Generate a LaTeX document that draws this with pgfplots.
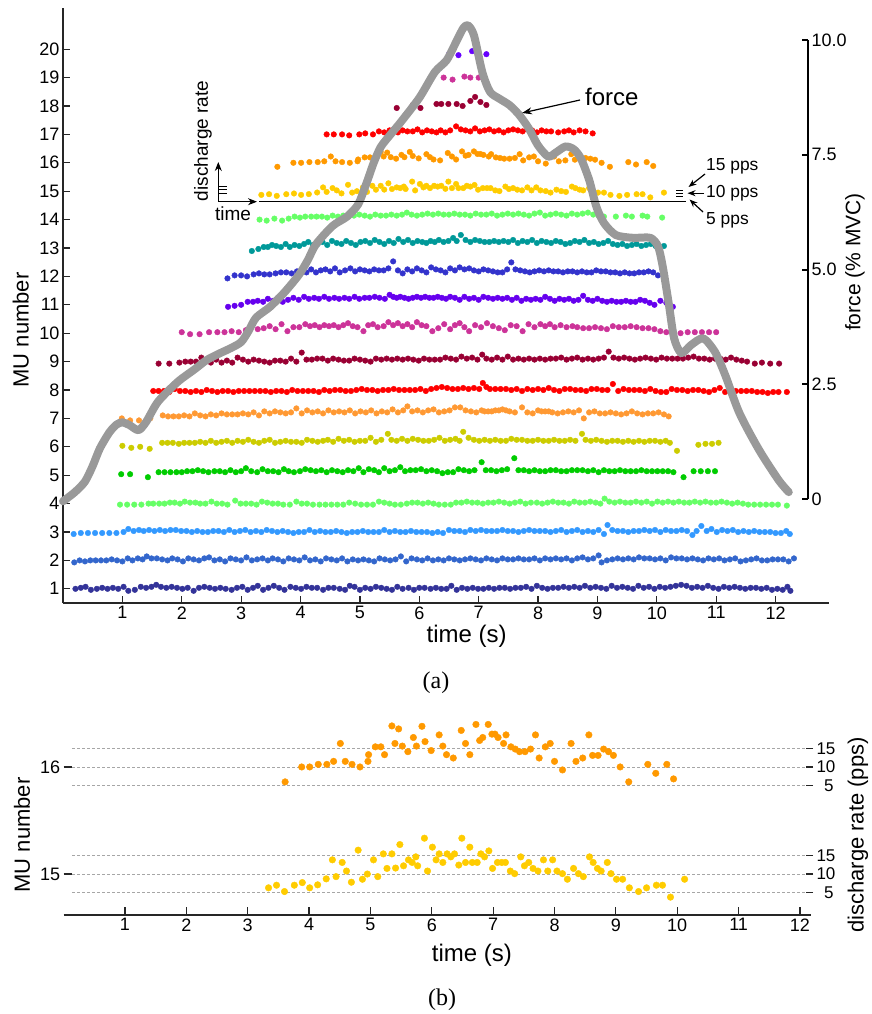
\documentclass[border=0pt]{standalone}
\usepackage{fontspec}
\setmainfont{Liberation Sans}
\newfontfamily\seriffont{Liberation Serif}
\usepackage{pgfplots}
\usepackage{pgfplotstable}
\pgfplotsset{compat=1.18}
\usetikzlibrary{arrows.meta}
\definecolor{c1}{HTML}{333399}\definecolor{c2}{HTML}{3366CC}\definecolor{c3}{HTML}{3399FF}
\definecolor{c4}{HTML}{66FF66}\definecolor{c5}{HTML}{00CC00}\definecolor{c6}{HTML}{CCCC00}
\definecolor{c7}{HTML}{FF9933}\definecolor{c8}{HTML}{FF0000}\definecolor{c9}{HTML}{990033}
\definecolor{c10}{HTML}{CC3399}\definecolor{c11}{HTML}{6600EE}\definecolor{c12}{HTML}{3333CC}
\definecolor{c13}{HTML}{009999}\definecolor{c14}{HTML}{66FF66}\definecolor{c15}{HTML}{FFCC00}
\definecolor{c16}{HTML}{FF9900}\definecolor{c17}{HTML}{FF0000}\definecolor{c18}{HTML}{990033}
\definecolor{c19}{HTML}{CC3399}\definecolor{c20}{HTML}{6600FF}
\definecolor{forcegray}{HTML}{999999}
\pgfplotsset{
  mu/.style={only marks, mark=*, mark size=2.8pt, color=#1},
  mub/.style={only marks, mark=*, mark size=3.3pt, color=#1},
  refl/.style={color=black!35, line width=0.9pt, dash pattern=on 3pt off 2pt},
  /pgf/number format/assume math mode=true,
  tick label style={font=\fontsize{18}{20}\selectfont},
  label style={font=\fontsize{22}{24}\selectfont},
}
\pgfplotstableread[row sep=\\]{t r\\
3.34 6.3\\ 3.47 7.0\\ 3.60 5.3\\ 3.76 7.0\\ 3.89 7.7\\ 4.01 6.3\\ 4.14 7.1\\ 4.28 8.7\\ 4.38 13.8\\ 4.44 9.3\\
4.54 13.1\\ 4.61 10.8\\ 4.69 7.8\\ 4.80 16.4\\ 4.87 8.6\\ 4.95 10.0\\ 5.05 13.8\\ 5.12 9.3\\ 5.21 15.4\\ 5.27 11.5\\
5.35 15.4\\ 5.41 11.6\\ 5.48 17.9\\ 5.54 12.2\\ 5.62 13.8\\ 5.68 13.1\\ 5.74 14.6\\ 5.77 12.2\\ 5.88 19.6\\ 5.93 10.8\\
6.01 17.2\\ 6.07 13.8\\ 6.12 15.4\\ 6.18 13.1\\ 6.25 15.4\\ 6.31 14.6\\ 6.37 15.4\\ 6.44 12.4\\ 6.49 19.6\\ 6.55 13.1\\
6.62 17.2\\ 6.66 13.1\\ 6.74 13.1\\ 6.80 15.4\\ 6.86 14.6\\ 6.93 16.2\\ 6.99 11.5\\ 7.07 13.1\\ 7.14 13.1\\ 7.20 13.1\\
7.28 10.8\\ 7.35 10.1\\ 7.45 14.6\\ 7.51 12.2\\ 7.58 13.1\\ 7.65 11.5\\ 7.73 10.8\\ 7.82 13.8\\ 7.89 10.8\\ 7.97 13.8\\
8.04 10.8\\ 8.13 10.1\\ 8.21 8.6\\ 8.31 11.5\\ 8.39 10.1\\ 8.47 9.3\\ 8.57 14.6\\ 8.63 13.1\\ 8.70 11.5\\ 8.76 10.8\\
8.86 13.1\\ 8.92 10.1\\ 9.01 8.6\\ 9.11 8.6\\ 9.22 6.3\\ 9.37 5.3\\ 9.50 6.3\\ 9.66 7.0\\ 9.76 7.0\\ 9.89 3.8\\ 10.12 8.6\\
}\tabXV
\pgfplotstableread[row sep=\\]{t r\\
3.61 6.0\\ 3.88 10.0\\ 4.01 10.0\\ 4.15 10.7\\ 4.29 10.7\\ 4.40 11.5\\ 4.51 16.3\\ 4.59 11.5\\ 4.70 10.7\\ 4.83 10.0\\
4.96 11.5\\ 4.97 13.3\\ 5.08 15.4\\ 5.17 15.4\\ 5.23 13.3\\ 5.35 21.0\\ 5.40 16.3\\ 5.46 20.2\\ 5.52 15.6\\ 5.61 14.1\\
5.70 17.9\\ 5.75 15.6\\ 5.84 20.9\\ 5.89 16.8\\ 5.99 14.4\\ 6.12 18.6\\ 6.18 15.6\\ 6.24 13.3\\ 6.35 12.4\\ 6.48 19.8\\
6.55 16.3\\ 6.62 13.3\\ 6.72 21.4\\ 6.78 17.1\\ 6.83 17.9\\ 6.92 21.4\\ 6.98 18.8\\ 7.03 18.8\\ 7.08 17.9\\ 7.17 16.3\\
7.21 18.6\\ 7.29 15.4\\ 7.36 14.8\\ 7.43 14.1\\ 7.52 14.1\\ 7.61 14.8\\ 7.69 18.6\\ 7.75 12.4\\ 7.85 15.4\\ 7.93 16.3\\
8.00 11.5\\ 8.13 9.2\\ 8.27 16.3\\ 8.35 11.5\\ 8.46 12.4\\ 8.56 18.6\\ 8.62 13.1\\ 8.71 13.1\\ 8.80 14.8\\ 8.88 14.1\\
8.96 13.1\\ 9.07 10.0\\ 9.21 6.0\\ 9.52 10.7\\ 9.65 8.3\\ 9.83 10.7\\ 9.94 6.8\\
}\tabXVI
\begin{document}
\begin{tikzpicture}[x=1pt,y=1pt]
\path[use as bounding box] (0,0) rectangle (872,-1014);
% ---------------- panel (a): motor units ----------------
\begin{axis}[
  at={(63pt,-603pt)}, anchor=south west, scale only axis,
  width=766pt, height=595pt,
  xmin=0, xmax=12.9, ymin=0.5, ymax=21.45,
  axis x line*=bottom, axis y line*=left,
  axis line style={line width=1.5pt, black!85},
  xtick={1,...,12}, ytick={1,...,20},
  tick align=inside, major tick length=7pt,
  tick style={line width=1.2pt, black!85},
  clip=false,
  xlabel={time (s)}, ylabel={MU number},
  xlabel style={at={(axis description cs:0.527,-0.0555)}, anchor=center, font=\fontsize{24}{26}\selectfont},
  ylabel style={at={(axis description cs:-0.055,0.459)}, anchor=center},
]
\addplot[mu=c1] table[row sep=\\, x=t, y expr={1+(\thisrow{r}-10)/28.4}] {t r\\
0.21 10\\ 0.30 11\\ 0.38 12\\ 0.47 9\\ 0.57 10\\ 0.66 11\\ 0.75 10\\ 0.84 11\\ 0.93 10\\ 1.02 12\\ 1.10 8\\ 1.21 9\\ 1.31 12\\ 1.40 11\\ 1.49 12\\ 1.57 14\\ 1.65 12\\ 1.74 11\\ 1.83 12\\ 1.92 11\\ 2.01 10\\ 2.10 11\\ 2.20 8\\ 2.29 11\\ 2.38 12\\ 2.47 11\\ 2.56 10\\ 2.65 11\\ 2.74 10\\ 2.84 9\\ 2.93 11\\ 3.02 12\\ 3.11 9\\ 3.20 11\\ 3.28 13\\ 3.37 9\\ 3.46 11\\ 3.55 13\\ 3.64 11\\ 3.73 9\\ 3.83 12\\ 3.92 11\\ 4.01 10\\ 4.10 12\\ 4.19 11\\ 4.28 11\\ 4.38 9\\ 4.47 11\\ 4.56 11\\ 4.66 10\\ 4.75 9\\ 4.83 13\\ 4.91 12\\ 5.00 9\\ 5.09 11\\ 5.18 10\\ 5.27 12\\ 5.36 11\\ 5.45 10\\ 5.54 9\\ 5.63 12\\ 5.72 10\\ 5.82 11\\ 5.91 9\\ 6.00 11\\ 6.09 11\\ 6.19 10\\ 6.28 11\\ 6.37 10\\ 6.46 10\\ 6.54 13\\ 6.63 9\\ 6.72 11\\ 6.81 10\\ 6.90 11\\ 6.99 10\\ 7.08 10\\ 7.17 11\\ 7.26 10\\ 7.35 11\\ 7.44 11\\ 7.53 10\\ 7.62 11\\ 7.71 11\\ 7.80 12\\ 7.89 10\\ 7.98 13\\ 8.07 11\\ 8.16 10\\ 8.25 11\\ 8.34 11\\ 8.43 12\\ 8.52 11\\ 8.61 12\\ 8.70 11\\ 8.79 13\\ 8.88 11\\ 8.97 12\\ 9.06 11\\ 9.15 10\\ 9.24 13\\ 9.33 11\\ 9.42 12\\ 9.51 11\\ 9.60 10\\ 9.69 13\\ 9.78 11\\ 9.87 12\\ 9.96 10\\ 10.05 12\\ 10.14 11\\ 10.23 12\\ 10.32 13\\ 10.41 14\\ 10.50 13\\ 10.59 11\\ 10.68 12\\ 10.77 11\\ 10.86 13\\ 10.95 11\\ 11.04 10\\ 11.13 12\\ 11.22 11\\ 11.31 12\\ 11.40 11\\ 11.49 10\\ 11.58 11\\ 11.67 11\\ 11.76 10\\ 11.85 11\\ 11.94 9\\ 12.03 10\\ 12.12 9\\ 12.20 12\\ 12.25 8\\
};
\addplot[mu=c2] table[row sep=\\, x=t, y expr={2+(\thisrow{r}-10)/28.4}] {t r\\
0.19 8\\ 0.28 10\\ 0.37 9\\ 0.46 10\\ 0.55 10\\ 0.64 10\\ 0.73 10\\ 0.82 11\\ 0.91 10\\ 1.00 9\\ 1.09 12\\ 1.17 10\\ 1.26 12\\ 1.34 11\\ 1.41 14\\ 1.49 12\\ 1.58 12\\ 1.67 11\\ 1.76 10\\ 1.84 12\\ 1.93 11\\ 2.02 9\\ 2.11 12\\ 2.20 11\\ 2.29 10\\ 2.38 12\\ 2.46 13\\ 2.55 10\\ 2.64 11\\ 2.73 9\\ 2.82 12\\ 2.91 11\\ 3.00 10\\ 3.09 13\\ 3.18 10\\ 3.27 11\\ 3.36 12\\ 3.45 10\\ 3.53 12\\ 3.62 11\\ 3.71 9\\ 3.80 12\\ 3.89 11\\ 3.98 10\\ 4.07 13\\ 4.16 10\\ 4.25 11\\ 4.34 9\\ 4.43 12\\ 4.52 11\\ 4.61 10\\ 4.70 12\\ 4.79 9\\ 4.88 11\\ 4.97 10\\ 5.06 11\\ 5.15 10\\ 5.24 9\\ 5.33 12\\ 5.42 11\\ 5.51 10\\ 5.60 11\\ 5.69 14\\ 5.78 9\\ 5.87 12\\ 5.96 11\\ 6.05 10\\ 6.14 12\\ 6.23 10\\ 6.32 11\\ 6.41 10\\ 6.50 12\\ 6.59 11\\ 6.68 10\\ 6.77 11\\ 6.86 12\\ 6.95 11\\ 7.04 10\\ 7.13 12\\ 7.22 11\\ 7.31 10\\ 7.40 12\\ 7.49 11\\ 7.58 11\\ 7.67 12\\ 7.76 11\\ 7.85 11\\ 7.94 12\\ 8.03 10\\ 8.12 12\\ 8.21 11\\ 8.30 12\\ 8.39 11\\ 8.48 12\\ 8.57 10\\ 8.66 12\\ 8.75 13\\ 8.84 11\\ 8.93 12\\ 9.02 15\\ 9.07 8\\ 9.16 10\\ 9.25 11\\ 9.34 12\\ 9.43 11\\ 9.52 12\\ 9.61 11\\ 9.70 13\\ 9.79 12\\ 9.88 12\\ 9.97 11\\ 10.06 12\\ 10.15 10\\ 10.24 13\\ 10.33 12\\ 10.42 12\\ 10.51 11\\ 10.60 12\\ 10.69 11\\ 10.78 10\\ 10.87 12\\ 10.96 11\\ 11.05 12\\ 11.14 10\\ 11.23 11\\ 11.32 12\\ 11.41 9\\ 11.50 10\\ 11.59 11\\ 11.68 12\\ 11.77 10\\ 11.86 10\\ 11.95 11\\ 12.04 11\\ 12.13 11\\ 12.22 9\\ 12.31 12\\
};
\addplot[mu=c3] table[row sep=\\, x=t, y expr={3+(\thisrow{r}-10)/28.4}] {t r\\
0.18 8\\ 0.30 9\\ 0.42 9\\ 0.54 9\\ 0.66 9\\ 0.78 9\\ 0.90 9\\ 1.02 10\\ 1.10 13\\ 1.19 11\\ 1.28 12\\ 1.36 11\\ 1.45 12\\ 1.54 11\\ 1.63 12\\ 1.72 11\\ 1.81 12\\ 1.90 12\\ 1.99 11\\ 2.08 11\\ 2.17 10\\ 2.26 11\\ 2.35 10\\ 2.44 10\\ 2.53 11\\ 2.62 11\\ 2.71 10\\ 2.80 12\\ 2.89 10\\ 2.98 11\\ 3.07 12\\ 3.16 10\\ 3.25 11\\ 3.34 10\\ 3.43 12\\ 3.52 11\\ 3.61 10\\ 3.70 11\\ 3.79 10\\ 3.88 9\\ 3.97 10\\ 4.06 10\\ 4.15 12\\ 4.24 10\\ 4.33 11\\ 4.42 10\\ 4.51 10\\ 4.60 11\\ 4.69 10\\ 4.78 9\\ 4.87 10\\ 4.96 10\\ 5.05 11\\ 5.14 10\\ 5.23 10\\ 5.32 10\\ 5.41 12\\ 5.50 10\\ 5.59 11\\ 5.68 10\\ 5.77 10\\ 5.86 11\\ 5.95 10\\ 6.04 10\\ 6.13 10\\ 6.22 9\\ 6.31 10\\ 6.40 9\\ 6.50 12\\ 6.59 11\\ 6.68 11\\ 6.77 10\\ 6.86 12\\ 6.95 11\\ 7.04 12\\ 7.13 11\\ 7.22 11\\ 7.31 11\\ 7.40 12\\ 7.49 11\\ 7.58 11\\ 7.67 10\\ 7.76 11\\ 7.85 12\\ 7.94 11\\ 8.03 11\\ 8.12 11\\ 8.21 10\\ 8.30 11\\ 8.39 12\\ 8.48 10\\ 8.57 11\\ 8.66 12\\ 8.75 10\\ 8.84 11\\ 8.93 10\\ 9.02 12\\ 9.11 8\\ 9.17 17\\ 9.25 12\\ 9.34 11\\ 9.43 11\\ 9.52 10\\ 9.61 11\\ 9.70 11\\ 9.79 12\\ 9.88 11\\ 9.97 12\\ 10.06 10\\ 10.15 12\\ 10.24 11\\ 10.33 11\\ 10.42 12\\ 10.51 11\\ 10.60 7\\ 10.67 11\\ 10.75 16\\ 10.84 11\\ 10.92 13\\ 11.01 10\\ 11.10 12\\ 11.19 11\\ 11.28 12\\ 11.37 10\\ 11.46 11\\ 11.55 10\\ 11.64 11\\ 11.73 10\\ 11.82 10\\ 11.91 10\\ 12.00 9\\ 12.09 9\\ 12.18 11\\ 12.24 8\\
};
\addplot[mu=c4] table[row sep=\\, x=t, y expr={4+(\thisrow{r}-10)/28.4}] {t r\\
0.96 9\\ 1.08 9\\ 1.20 9\\ 1.32 9\\ 1.44 10\\ 1.52 10\\ 1.62 10\\ 1.71 10\\ 1.80 11\\ 1.88 11\\ 1.97 10\\ 2.05 12\\ 2.14 11\\ 2.23 11\\ 2.31 10\\ 2.40 10\\ 2.50 12\\ 2.59 10\\ 2.68 10\\ 2.77 9\\ 2.90 13\\ 2.99 10\\ 3.08 10\\ 3.17 10\\ 3.26 9\\ 3.35 12\\ 3.44 11\\ 3.53 10\\ 3.62 10\\ 3.71 9\\ 3.82 9\\ 3.93 12\\ 4.02 10\\ 4.11 10\\ 4.21 9\\ 4.32 9\\ 4.42 9\\ 4.52 9\\ 4.62 9\\ 4.72 9\\ 4.82 11\\ 4.92 10\\ 5.02 9\\ 5.12 9\\ 5.22 9\\ 5.32 12\\ 5.41 11\\ 5.50 10\\ 5.59 9\\ 5.69 9\\ 5.79 10\\ 5.88 11\\ 5.97 11\\ 6.06 10\\ 6.15 11\\ 6.24 10\\ 6.33 9\\ 6.43 9\\ 6.53 9\\ 6.62 11\\ 6.71 11\\ 6.80 12\\ 6.89 11\\ 6.98 11\\ 7.07 10\\ 7.16 11\\ 7.25 11\\ 7.34 12\\ 7.43 11\\ 7.52 10\\ 7.61 11\\ 7.70 12\\ 7.79 10\\ 7.88 11\\ 7.98 11\\ 8.07 10\\ 8.16 11\\ 8.25 12\\ 8.34 11\\ 8.43 11\\ 8.52 10\\ 8.61 12\\ 8.70 11\\ 8.79 11\\ 8.88 12\\ 8.97 11\\ 9.05 10\\ 9.12 15\\ 9.20 12\\ 9.29 11\\ 9.38 12\\ 9.47 11\\ 9.56 11\\ 9.65 12\\ 9.74 11\\ 9.83 12\\ 9.92 10\\ 10.01 12\\ 10.10 11\\ 10.19 12\\ 10.28 11\\ 10.37 12\\ 10.46 11\\ 10.55 11\\ 10.64 12\\ 10.73 11\\ 10.82 12\\ 10.91 11\\ 11.00 11\\ 11.09 12\\ 11.18 11\\ 11.27 10\\ 11.36 11\\ 11.45 10\\ 11.54 9\\ 11.64 9\\ 11.74 9\\ 11.84 9\\ 11.94 9\\ 12.04 9\\ 12.19 8\\
};
\addplot[mu=c5] table[row sep=\\, x=t, y expr={5+(\thisrow{r}-10)/28.4}] {t r\\
0.98 11\\ 1.13 11\\ 1.43 8\\ 1.61 13\\ 1.71 13\\ 1.81 13\\ 1.91 13\\ 2.00 13\\ 2.09 14\\ 2.18 14\\ 2.27 15\\ 2.36 14\\ 2.45 13\\ 2.55 14\\ 2.64 14\\ 2.73 13\\ 2.82 15\\ 2.91 13\\ 3.00 14\\ 3.08 17\\ 3.17 14\\ 3.27 13\\ 3.36 16\\ 3.45 14\\ 3.54 14\\ 3.63 13\\ 3.72 16\\ 3.80 14\\ 3.89 13\\ 3.99 14\\ 4.08 16\\ 4.17 15\\ 4.26 14\\ 4.35 15\\ 4.44 13\\ 4.53 15\\ 4.62 14\\ 4.71 13\\ 4.80 15\\ 4.89 14\\ 4.98 17\\ 5.06 13\\ 5.15 16\\ 5.24 15\\ 5.32 13\\ 5.41 17\\ 5.50 14\\ 5.59 15\\ 5.68 18\\ 5.76 14\\ 5.85 15\\ 5.94 15\\ 6.03 16\\ 6.12 14\\ 6.21 15\\ 6.30 14\\ 6.39 12\\ 6.48 13\\ 6.57 13\\ 6.66 16\\ 6.75 15\\ 6.84 14\\ 6.93 15\\ 7.05 23\\ 7.12 15\\ 7.21 15\\ 7.30 14\\ 7.39 15\\ 7.48 16\\ 7.60 27\\ 7.67 15\\ 7.76 15\\ 7.85 14\\ 7.94 15\\ 8.03 14\\ 8.12 14\\ 8.21 15\\ 8.30 15\\ 8.39 14\\ 8.48 14\\ 8.57 15\\ 8.66 15\\ 8.75 15\\ 8.84 14\\ 8.93 15\\ 9.02 13\\ 9.11 15\\ 9.20 14\\ 9.29 14\\ 9.38 15\\ 9.47 14\\ 9.56 14\\ 9.65 14\\ 9.74 15\\ 9.83 14\\ 9.92 14\\ 10.01 14\\ 10.10 14\\ 10.19 14\\ 10.28 13\\ 10.45 8\\ 10.62 14\\ 10.74 14\\ 10.86 14\\ 10.98 14\\
};
\addplot[mu=c6] table[row sep=\\, x=t, y expr={6+(\thisrow{r}-10)/28.4}] {t r\\
1.00 11\\ 1.15 9\\ 1.30 10\\ 1.46 8\\ 1.67 14\\ 1.76 14\\ 1.85 14\\ 1.95 13\\ 2.04 14\\ 2.13 14\\ 2.22 14\\ 2.31 15\\ 2.40 14\\ 2.49 16\\ 2.58 14\\ 2.67 15\\ 2.76 16\\ 2.85 14\\ 2.94 16\\ 3.03 15\\ 3.12 17\\ 3.21 15\\ 3.30 14\\ 3.39 16\\ 3.48 17\\ 3.57 14\\ 3.66 15\\ 3.75 16\\ 3.84 15\\ 3.93 15\\ 4.02 14\\ 4.11 17\\ 4.20 16\\ 4.29 15\\ 4.38 16\\ 4.46 17\\ 4.55 15\\ 4.64 18\\ 4.73 16\\ 4.82 17\\ 4.91 15\\ 5.00 16\\ 5.09 16\\ 5.18 19\\ 5.27 15\\ 5.36 17\\ 5.47 23\\ 5.53 17\\ 5.62 16\\ 5.71 18\\ 5.80 16\\ 5.89 18\\ 5.98 17\\ 6.07 16\\ 6.16 16\\ 6.25 17\\ 6.34 19\\ 6.43 16\\ 6.52 17\\ 6.61 18\\ 6.68 16\\ 6.74 25\\ 6.83 19\\ 6.92 17\\ 7.01 16\\ 7.10 17\\ 7.19 16\\ 7.28 17\\ 7.37 16\\ 7.46 16\\ 7.55 18\\ 7.64 17\\ 7.73 17\\ 7.82 16\\ 7.91 16\\ 8.00 17\\ 8.09 16\\ 8.18 16\\ 8.27 17\\ 8.36 16\\ 8.45 16\\ 8.54 17\\ 8.63 16\\ 8.74 23\\ 8.80 17\\ 8.89 16\\ 8.98 17\\ 9.07 16\\ 9.16 15\\ 9.25 16\\ 9.34 16\\ 9.43 15\\ 9.52 16\\ 9.61 15\\ 9.70 16\\ 9.79 15\\ 9.88 16\\ 9.97 16\\ 10.06 15\\ 10.15 16\\ 10.22 14\\ 10.34 6\\ 10.70 12\\ 10.82 13\\ 10.93 13\\ 11.04 14\\
};
\addplot[mu=c7] table[row sep=\\, x=t, y expr={7+(\thisrow{r}-10)/28.4}] {t r\\
0.99 10\\ 1.13 8\\ 1.28 8\\ 1.47 10\\ 1.68 13\\ 1.77 12\\ 1.86 12\\ 1.95 12\\ 2.04 13\\ 2.13 12\\ 2.22 15\\ 2.31 13\\ 2.40 12\\ 2.49 14\\ 2.58 13\\ 2.67 15\\ 2.76 14\\ 2.85 14\\ 2.94 14\\ 3.03 15\\ 3.12 14\\ 3.21 16\\ 3.30 13\\ 3.39 17\\ 3.48 15\\ 3.57 17\\ 3.66 16\\ 3.75 15\\ 3.84 16\\ 3.93 20\\ 4.02 15\\ 4.11 18\\ 4.20 16\\ 4.29 17\\ 4.38 15\\ 4.47 18\\ 4.56 16\\ 4.65 17\\ 4.74 16\\ 4.83 18\\ 4.92 15\\ 5.01 17\\ 5.10 16\\ 5.19 18\\ 5.28 15\\ 5.37 17\\ 5.46 16\\ 5.55 19\\ 5.64 16\\ 5.73 18\\ 5.80 22\\ 5.88 17\\ 5.97 18\\ 6.06 16\\ 6.15 18\\ 6.24 19\\ 6.33 16\\ 6.42 17\\ 6.51 18\\ 6.60 21\\ 6.69 21\\ 6.78 18\\ 6.87 17\\ 6.96 16\\ 7.05 18\\ 7.10 17\\ 7.16 17\\ 7.22 17\\ 7.28 18\\ 7.34 18\\ 7.40 19\\ 7.46 18\\ 7.52 17\\ 7.61 16\\ 7.73 21\\ 7.82 16\\ 7.91 15\\ 8.00 18\\ 8.06 17\\ 8.12 17\\ 8.18 17\\ 8.24 16\\ 8.33 15\\ 8.42 16\\ 8.51 17\\ 8.60 16\\ 8.69 18\\ 8.77 10\\ 8.86 16\\ 8.95 17\\ 9.04 15\\ 9.13 15\\ 9.22 16\\ 9.31 15\\ 9.40 14\\ 9.49 15\\ 9.58 17\\ 9.67 15\\ 9.76 14\\ 9.85 15\\ 9.94 15\\ 10.03 16\\ 10.12 14\\ 10.20 12\\
};
\addplot[mu=c8] table[row sep=\\, x=t, y expr={8+(\thisrow{r}-10)/28.4}] {t r\\
1.52 9\\ 1.61 9\\ 1.70 9\\ 1.79 8\\ 1.88 11\\ 1.97 9\\ 2.06 9\\ 2.15 8\\ 2.24 9\\ 2.33 8\\ 2.42 10\\ 2.51 9\\ 2.60 8\\ 2.69 9\\ 2.78 9\\ 2.87 8\\ 2.96 9\\ 3.05 9\\ 3.14 9\\ 3.23 9\\ 3.32 9\\ 3.41 9\\ 3.50 8\\ 3.59 9\\ 3.68 9\\ 3.77 8\\ 3.86 10\\ 3.95 9\\ 4.04 9\\ 4.13 9\\ 4.22 9\\ 4.31 8\\ 4.40 10\\ 4.49 9\\ 4.58 10\\ 4.67 10\\ 4.76 9\\ 4.85 9\\ 4.94 10\\ 5.03 11\\ 5.12 10\\ 5.21 10\\ 5.30 9\\ 5.39 10\\ 5.48 10\\ 5.57 11\\ 5.66 10\\ 5.75 10\\ 5.84 10\\ 5.93 10\\ 6.02 11\\ 6.11 9\\ 6.20 11\\ 6.29 12\\ 6.38 13\\ 6.47 12\\ 6.56 11\\ 6.65 11\\ 6.74 12\\ 6.83 11\\ 6.92 12\\ 7.01 11\\ 7.07 17\\ 7.13 13\\ 7.19 11\\ 7.28 11\\ 7.37 11\\ 7.46 11\\ 7.55 10\\ 7.64 11\\ 7.73 9\\ 7.82 11\\ 7.91 10\\ 8.00 11\\ 8.09 10\\ 8.18 12\\ 8.27 10\\ 8.36 9\\ 8.45 11\\ 8.54 11\\ 8.63 10\\ 8.72 10\\ 8.81 9\\ 8.90 11\\ 8.99 11\\ 9.08 10\\ 9.17 10\\ 9.26 16\\ 9.35 9\\ 9.44 11\\ 9.53 10\\ 9.62 10\\ 9.71 10\\ 9.80 9\\ 9.89 11\\ 9.98 9\\ 10.07 8\\ 10.16 8\\ 10.25 11\\ 10.34 10\\ 10.43 10\\ 10.52 9\\ 10.61 10\\ 10.70 10\\ 10.79 9\\ 10.88 8\\ 10.97 10\\ 11.06 12\\ 11.15 8\\ 11.24 9\\ 11.33 9\\ 11.42 9\\ 11.51 9\\ 11.60 9\\ 11.69 8\\ 11.78 8\\ 11.87 7\\ 11.96 8\\ 12.05 8\\ 12.19 8\\
};
\addplot[mu=c9] table[row sep=\\, x=t, y expr={9+(\thisrow{r}-10)/28.4}] {t r\\
1.61 8\\ 1.79 8\\ 1.96 9\\ 2.06 10\\ 2.15 10\\ 2.24 10\\ 2.33 14\\ 2.40 11\\ 2.49 9\\ 2.58 12\\ 2.67 9\\ 2.76 11\\ 2.85 9\\ 2.94 14\\ 3.03 12\\ 3.12 10\\ 3.21 12\\ 3.30 11\\ 3.39 10\\ 3.48 9\\ 3.57 11\\ 3.66 11\\ 3.75 10\\ 3.84 13\\ 3.93 10\\ 4.02 19\\ 4.10 12\\ 4.19 12\\ 4.28 13\\ 4.37 13\\ 4.46 11\\ 4.55 13\\ 4.64 12\\ 4.73 11\\ 4.82 11\\ 4.91 13\\ 5.00 12\\ 5.09 11\\ 5.18 10\\ 5.27 13\\ 5.36 12\\ 5.45 13\\ 5.54 12\\ 5.63 13\\ 5.72 12\\ 5.81 13\\ 5.90 12\\ 5.99 11\\ 6.08 13\\ 6.17 12\\ 6.26 12\\ 6.35 12\\ 6.44 14\\ 6.53 13\\ 6.62 12\\ 6.71 15\\ 6.80 13\\ 6.89 14\\ 6.98 12\\ 7.06 17\\ 7.13 13\\ 7.22 12\\ 7.31 14\\ 7.40 12\\ 7.49 15\\ 7.58 12\\ 7.67 13\\ 7.76 12\\ 7.85 13\\ 7.94 12\\ 8.03 13\\ 8.12 12\\ 8.21 13\\ 8.30 13\\ 8.39 14\\ 8.48 12\\ 8.57 13\\ 8.66 14\\ 8.75 12\\ 8.84 13\\ 8.93 12\\ 9.02 13\\ 9.11 14\\ 9.19 20\\ 9.27 14\\ 9.36 13\\ 9.45 14\\ 9.54 13\\ 9.63 12\\ 9.72 13\\ 9.81 14\\ 9.90 13\\ 9.99 12\\ 10.08 14\\ 10.17 13\\ 10.26 13\\ 10.35 13\\ 10.44 13\\ 10.53 14\\ 10.62 15\\ 10.71 13\\ 10.80 13\\ 10.89 12\\ 10.98 13\\ 11.07 13\\ 11.16 12\\ 11.25 14\\ 11.34 12\\ 11.43 11\\ 11.52 10\\ 11.65 8\\ 11.77 9\\ 11.91 8\\ 12.06 8\\
};
\addplot[mu=c10] table[row sep=\\, x=t, y expr={10+(\thisrow{r}-10)/28.4}] {t r\\
2.00 11\\ 2.14 9\\ 2.30 9\\ 2.46 11\\ 2.60 11\\ 2.72 11\\ 2.84 12\\ 2.96 11\\ 3.08 13\\ 3.18 20\\ 3.28 14\\ 3.38 15\\ 3.48 17\\ 3.58 14\\ 3.68 19\\ 3.78 12\\ 3.88 16\\ 3.98 16\\ 4.08 19\\ 4.16 17\\ 4.24 18\\ 4.32 16\\ 4.40 18\\ 4.48 17\\ 4.56 18\\ 4.64 16\\ 4.72 18\\ 4.80 20\\ 4.88 17\\ 4.96 16\\ 5.06 12\\ 5.14 18\\ 5.22 19\\ 5.30 16\\ 5.40 17\\ 5.48 21\\ 5.56 18\\ 5.64 20\\ 5.72 17\\ 5.80 19\\ 5.88 16\\ 5.96 21\\ 6.04 18\\ 6.12 17\\ 6.22 12\\ 6.32 15\\ 6.42 19\\ 6.52 14\\ 6.60 18\\ 6.68 20\\ 6.76 16\\ 6.84 12\\ 6.94 18\\ 7.04 16\\ 7.14 20\\ 7.24 17\\ 7.34 15\\ 7.44 13\\ 7.54 18\\ 7.64 17\\ 7.74 12\\ 7.84 19\\ 7.94 16\\ 8.04 19\\ 8.12 17\\ 8.20 19\\ 8.28 16\\ 8.38 18\\ 8.48 16\\ 8.58 17\\ 8.66 16\\ 8.76 15\\ 8.86 15\\ 8.96 16\\ 9.06 15\\ 9.16 14\\ 9.26 17\\ 9.36 16\\ 9.46 16\\ 9.56 17\\ 9.66 16\\ 9.76 15\\ 9.86 15\\ 9.96 14\\ 10.06 12\\ 10.16 11\\ 10.28 11\\ 10.40 10\\ 10.52 11\\ 10.64 11\\ 10.76 11\\ 10.88 11\\ 11.00 11\\
};
\addplot[mu=c11] table[row sep=\\, x=t, y expr={11+(\thisrow{r}-10)/28.4}] {t r\\
2.78 8\\ 2.89 9\\ 3.00 10\\ 3.11 13\\ 3.20 13\\ 3.28 14\\ 3.37 13\\ 3.45 16\\ 3.54 14\\ 3.62 17\\ 3.70 13\\ 3.79 15\\ 3.88 17\\ 3.97 15\\ 4.06 18\\ 4.14 16\\ 4.23 17\\ 4.31 16\\ 4.40 18\\ 4.48 16\\ 4.57 17\\ 4.65 16\\ 4.74 17\\ 4.82 16\\ 4.91 18\\ 4.99 16\\ 5.08 17\\ 5.16 17\\ 5.25 18\\ 5.33 17\\ 5.42 16\\ 5.50 20\\ 5.56 18\\ 5.62 17\\ 5.68 18\\ 5.75 17\\ 5.82 16\\ 5.89 17\\ 5.96 18\\ 6.03 17\\ 6.10 18\\ 6.17 17\\ 6.24 17\\ 6.31 18\\ 6.38 17\\ 6.45 16\\ 6.52 18\\ 6.60 17\\ 6.68 15\\ 6.76 18\\ 6.84 16\\ 6.92 17\\ 7.00 15\\ 7.08 18\\ 7.16 17\\ 7.24 16\\ 7.32 17\\ 7.40 16\\ 7.48 17\\ 7.56 15\\ 7.64 17\\ 7.72 14\\ 7.80 16\\ 7.88 15\\ 7.96 16\\ 8.04 15\\ 8.12 18\\ 8.20 16\\ 8.28 14\\ 8.36 16\\ 8.44 15\\ 8.52 16\\ 8.60 14\\ 8.68 15\\ 8.76 19\\ 8.84 15\\ 8.92 14\\ 9.00 16\\ 9.08 14\\ 9.16 13\\ 9.24 14\\ 9.32 13\\ 9.40 13\\ 9.48 14\\ 9.56 13\\ 9.64 13\\ 9.72 15\\ 9.80 14\\ 9.88 12\\ 9.96 10\\ 10.06 14\\ 10.16 12\\ 10.27 8\\
};
\addplot[mu=c12] table[row sep=\\, x=t, y expr={12+(\thisrow{r}-10)/28.4}] {t r\\
2.77 8\\ 2.89 11\\ 3.00 11\\ 3.10 10\\ 3.21 12\\ 3.30 13\\ 3.39 12\\ 3.48 12\\ 3.58 13\\ 3.67 14\\ 3.76 14\\ 3.85 13\\ 3.94 15\\ 4.02 16\\ 4.10 14\\ 4.18 17\\ 4.26 14\\ 4.34 16\\ 4.42 17\\ 4.50 15\\ 4.58 18\\ 4.66 14\\ 4.75 16\\ 4.84 18\\ 4.92 15\\ 5.00 17\\ 5.08 16\\ 5.16 15\\ 5.24 17\\ 5.32 16\\ 5.40 16\\ 5.48 18\\ 5.56 25\\ 5.64 16\\ 5.72 13\\ 5.80 17\\ 5.88 15\\ 5.96 18\\ 6.04 16\\ 6.12 14\\ 6.20 19\\ 6.28 17\\ 6.36 16\\ 6.44 14\\ 6.52 18\\ 6.60 16\\ 6.68 19\\ 6.76 17\\ 6.84 18\\ 6.92 16\\ 7.00 15\\ 7.08 17\\ 7.16 16\\ 7.24 15\\ 7.32 14\\ 7.40 14\\ 7.48 17\\ 7.55 24\\ 7.62 17\\ 7.70 16\\ 7.78 15\\ 7.86 14\\ 7.94 15\\ 8.02 16\\ 8.10 15\\ 8.18 16\\ 8.26 15\\ 8.34 15\\ 8.42 14\\ 8.50 15\\ 8.58 15\\ 8.66 14\\ 8.74 15\\ 8.82 14\\ 8.90 14\\ 8.98 16\\ 9.06 15\\ 9.14 15\\ 9.22 14\\ 9.30 14\\ 9.38 13\\ 9.46 14\\ 9.54 13\\ 9.62 13\\ 9.70 14\\ 9.78 14\\ 9.86 15\\ 9.94 14\\ 10.02 11\\ 10.14 11\\
};
\addplot[mu=c13] table[row sep=\\, x=t, y expr={13+(\thisrow{r}-10)/28.4}] {t r\\
3.18 7\\ 3.29 9\\ 3.38 11\\ 3.45 11\\ 3.52 13\\ 3.59 12\\ 3.67 11\\ 3.75 14\\ 3.82 11\\ 3.90 13\\ 3.98 12\\ 4.06 14\\ 4.13 16\\ 4.21 13\\ 4.29 14\\ 4.37 16\\ 4.45 13\\ 4.53 17\\ 4.61 15\\ 4.69 14\\ 4.77 17\\ 4.85 15\\ 4.93 13\\ 5.01 16\\ 5.09 17\\ 5.17 15\\ 5.25 18\\ 5.33 16\\ 5.41 14\\ 5.49 17\\ 5.57 15\\ 5.65 19\\ 5.73 16\\ 5.81 18\\ 5.89 15\\ 5.97 17\\ 6.05 16\\ 6.12 15\\ 6.19 17\\ 6.26 16\\ 6.33 18\\ 6.41 16\\ 6.49 17\\ 6.57 20\\ 6.63 17\\ 6.70 23\\ 6.78 18\\ 6.86 16\\ 6.94 18\\ 7.02 17\\ 7.10 16\\ 7.18 16\\ 7.26 17\\ 7.34 16\\ 7.42 17\\ 7.50 16\\ 7.58 18\\ 7.66 15\\ 7.74 17\\ 7.82 16\\ 7.90 18\\ 7.98 15\\ 8.06 17\\ 8.14 16\\ 8.22 15\\ 8.30 17\\ 8.38 16\\ 8.46 14\\ 8.54 15\\ 8.62 17\\ 8.70 16\\ 8.78 18\\ 8.86 15\\ 8.94 16\\ 9.02 14\\ 9.10 15\\ 9.18 17\\ 9.26 14\\ 9.34 13\\ 9.42 14\\ 9.50 12\\ 9.58 13\\ 9.66 14\\ 9.74 12\\ 9.82 13\\ 9.90 14\\ 9.98 12\\ 10.05 11\\ 10.12 12\\
};
\addplot[mu=c14] table[row sep=\\, x=t, y expr={14+(\thisrow{r}-10)/28.4}] {t r\\
3.31 10\\ 3.43 9\\ 3.56 11\\ 3.69 9\\ 3.80 11\\ 3.90 13\\ 3.99 12\\ 4.08 13\\ 4.18 13\\ 4.27 13\\ 4.36 13\\ 4.45 12\\ 4.54 14\\ 4.63 13\\ 4.72 14\\ 4.81 13\\ 4.90 14\\ 4.99 15\\ 5.08 14\\ 5.17 13\\ 5.26 15\\ 5.35 14\\ 5.44 14\\ 5.53 15\\ 5.62 14\\ 5.71 15\\ 5.79 17\\ 5.87 15\\ 5.96 14\\ 6.05 15\\ 6.14 16\\ 6.23 15\\ 6.32 16\\ 6.41 15\\ 6.50 15\\ 6.59 16\\ 6.68 15\\ 6.77 15\\ 6.86 14\\ 6.95 16\\ 7.04 15\\ 7.13 15\\ 7.22 16\\ 7.31 14\\ 7.40 15\\ 7.49 16\\ 7.58 15\\ 7.67 16\\ 7.76 15\\ 7.85 14\\ 7.94 16\\ 8.03 17\\ 8.12 14\\ 8.21 15\\ 8.30 16\\ 8.39 15\\ 8.48 14\\ 8.57 16\\ 8.66 15\\ 8.75 16\\ 8.84 17\\ 8.93 15\\ 9.02 14\\ 9.11 13\\ 9.31 13\\ 9.48 14\\ 9.58 13\\ 9.76 14\\ 9.84 13\\ 10.09 12\\
};
\addplot[mu=c15] table[x=t, y expr={15+(\thisrow{r}-10)/28.4}] {\tabXV};
\addplot[mu=c16] table[x=t, y expr={16+(\thisrow{r}-10)/28.4}] {\tabXVI};
\addplot[mu=c17] table[row sep=\\, x=t, y expr={17+(\thisrow{r}-10)/28.4}] {t r\\
4.44 10\\ 4.56 10\\ 4.70 10\\ 4.82 9\\ 4.99 10\\ 5.09 11\\ 5.22 10\\ 5.32 13\\ 5.41 12\\ 5.50 14\\ 5.57 15\\ 5.64 12\\ 5.72 14\\ 5.80 13\\ 5.89 13\\ 5.97 15\\ 6.05 12\\ 6.13 14\\ 6.21 13\\ 6.29 12\\ 6.36 14\\ 6.44 12\\ 6.52 14\\ 6.62 18\\ 6.70 15\\ 6.78 14\\ 6.86 13\\ 6.94 16\\ 7.02 13\\ 7.10 14\\ 7.18 15\\ 7.26 13\\ 7.34 14\\ 7.42 12\\ 7.50 14\\ 7.58 15\\ 7.66 14\\ 7.74 13\\ 7.82 15\\ 7.90 14\\ 7.98 12\\ 8.06 14\\ 8.14 13\\ 8.22 13\\ 8.34 12\\ 8.44 13\\ 8.52 14\\ 8.60 12\\ 8.70 14\\ 8.80 13\\ 8.92 11\\
};
\addplot[mu=c18] table[row sep=\\, x=t, y expr={18+(\thisrow{r}-10)/28.4}] {t r\\
5.62 8\\ 5.89 11\\ 6.02 8\\ 6.29 12\\ 6.37 12\\ 6.49 12\\ 6.63 12\\ 6.73 10\\ 6.86 15\\ 6.94 19\\ 7.03 14\\ 7.13 11\\
};
\addplot[mu=c19] table[row sep=\\, x=t, y expr={19+(\thisrow{r}-10)/28.4}] {t r\\
6.41 10\\ 6.56 8\\ 6.76 11\\ 6.86 10\\ 7.00 10\\
};
\addplot[mu=c20] table[row sep=\\, x=t, y expr={20+(\thisrow{r}-10)/28.4}] {t r\\
6.50 5\\ 6.66 4\\ 6.89 8\\ 7.00 4\\ 7.13 5\\
};
\end{axis}
% ---------------- panel (a): force ----------------
\begin{axis}[
  at={(63pt,-499pt)}, anchor=south west, scale only axis,
  width=745pt, height=459pt,
  xmin=0, xmax=12.544, ymin=0, ymax=10,
  axis x line=none, axis y line*=right,
  axis line style={line width=2.4pt, black},
  ytick={0,2.5,5,7.5,10}, yticklabels={0,2.5,5.0,7.5,10.0},
  tick align=inside, major tick length=6pt,
  tick style={line width=2pt, black},
  clip=false,
  ylabel={force (\% MVC)},
  ylabel style={at={(axis description cs:1.063,0.516)}, anchor=center, font=\fontsize{21}{23}\selectfont},
]
\addplot[forcegray, line width=8pt, line cap=round, line join=round, smooth, tension=0.45] coordinates {
(0,-0.05) (0.2,0.15) (0.37,0.38) (0.5,0.72) (0.62,1.1) (0.78,1.45) (0.9,1.62) (1.0,1.67) (1.12,1.61) (1.27,1.5) (1.4,1.68) (1.6,2.12) (1.93,2.55) (2.21,2.82) (2.41,3.02) (2.6,3.15) (2.83,3.29) (3.0,3.42) (3.12,3.65) (3.25,3.95) (3.48,4.18) (3.72,4.49) (3.97,4.88) (4.12,5.2) (4.26,5.55) (4.54,5.95) (4.78,6.15) (4.97,6.42) (5.11,6.88) (5.23,7.32) (5.35,7.67) (5.52,7.95) (5.68,8.2) (6.0,8.74) (6.26,9.3) (6.46,9.56) (6.62,9.96) (6.74,10.26) (6.82,10.32) (6.92,10.1) (7.06,9.3) (7.19,8.87) (7.35,8.72) (7.52,8.58) (7.68,8.37) (7.84,8.08) (8.0,7.7) (8.17,7.46) (8.3,7.55) (8.46,7.68) (8.6,7.62) (8.72,7.42) (8.86,6.95) (8.98,6.37) (9.11,6.01) (9.31,5.75) (9.6,5.69) (9.89,5.69) (10.02,5.5) (10.1,5.05) (10.2,4.25) (10.29,3.5) (10.41,3.18) (10.58,3.36) (10.78,3.5) (10.98,3.2) (11.15,2.7) (11.39,1.87) (11.72,1.07) (12.05,0.41) (12.22,0.15)
};
\end{axis}
% annotations panel (a)
\draw[line width=1.2pt, -{Stealth[length=9pt,width=7pt]}] (218.3,-201.7) -- (218.3,-162);
\draw[line width=1.2pt, -{Stealth[length=9pt,width=7pt]}] (218.3,-201.7) -- (257,-201.7);
\draw[line width=1pt] (218.3,-186)--(226.5,-186) (218.3,-189.6)--(226.5,-189.6) (218.3,-193.3)--(226.5,-193.3);
\node[font=\fontsize{19}{20}\selectfont] at (233,-214) {time};
\node[font=\fontsize{19}{20}\selectfont, rotate=90] at (203,-141) {discharge rate};
\draw[line width=1.2pt] (259,-201.7) -- (686,-201.7);
\draw[line width=1pt] (676,-190.7)--(683,-190.7) (676,-193.7)--(683,-193.7) (676,-196.7)--(683,-196.7);
\draw[line width=1.2pt, -{Stealth[length=8pt,width=6pt]}] (705,-174) -- (688.5,-187);
\draw[line width=1.2pt, -{Stealth[length=8pt,width=6pt]}] (704,-193.2) -- (687.5,-193.2);
\draw[line width=1.2pt, -{Stealth[length=8pt,width=6pt]}] (703,-212) -- (689.5,-199.5);
\node[anchor=west, inner sep=0pt, font=\fontsize{17.4}{18}\selectfont] at (706,-166.7) {15 pps};
\node[anchor=west, inner sep=0pt, font=\fontsize{17.4}{18}\selectfont] at (706,-193.3) {10 pps};
\node[anchor=west, inner sep=0pt, font=\fontsize{17.4}{18}\selectfont] at (706,-220.7) {5 pps};
\node[anchor=west, inner sep=0pt, font=\fontsize{24}{26}\selectfont] at (585,-97) {force};
\draw[line width=1.2pt, -{Stealth[length=10pt,width=7pt]}] (580,-100) -- (522,-113);
\node[font=\seriffont\fontsize{24}{26}\selectfont] at (436,-683) {(a)};
% ---------------- panel (b) ----------------
\begin{axis}[
  at={(63.6pt,-915pt)}, anchor=south west, scale only axis,
  width=747.4pt, height=200pt,
  xmin=0, xmax=12.18, ymin=-0.99, ymax=52.63,
  axis x line*=bottom, axis y line*=left,
  x axis line style={line width=1.5pt, black!85},
  y axis line style={draw=none},
  xtick={1,...,12}, ytick={10,38.7}, yticklabels={15,16},
  tick align=inside, major tick length=8pt,
  tick style={line width=1.2pt, black!85},
  clip=false,
  xlabel={time (s)}, ylabel={MU number},
  xlabel style={at={(axis description cs:0.5464,-0.2)}, anchor=center, font=\fontsize{24}{26}\selectfont},
  ylabel style={at={(axis description cs:-0.0557,0.4)}, anchor=center},
]
\addplot[refl] coordinates {(0.14,5) (12.1,5)};
\addplot[refl] coordinates {(0.14,10) (12.1,10)};
\addplot[refl] coordinates {(0.14,15) (12.1,15)};
\addplot[refl] coordinates {(0.14,33.7) (12.1,33.7)};
\addplot[refl] coordinates {(0.14,38.7) (12.1,38.7)};
\addplot[refl] coordinates {(0.14,43.7) (12.1,43.7)};
\addplot[mub=c15] table[x=t, y expr={\thisrow{r}}] {\tabXV};
\addplot[mub=c16] table[x=t, y expr={\thisrow{r}+28.7}] {\tabXVI};
\end{axis}
\begin{axis}[
  at={(63.6pt,-915pt)}, anchor=south west, scale only axis,
  width=742.4pt, height=200pt,
  xmin=0, xmax=12.1, ymin=-0.99, ymax=52.63,
  axis x line=none, axis y line*=right,
  y axis line style={draw=none},
  ytick={5,10,15,33.7,38.7,43.7}, yticklabels={5,10,15,5,10,15},
  tick align=outside, major tick length=7pt,
  tick style={line width=1.2pt, black!85},
  yticklabel style={font=\fontsize{17}{18}\selectfont, text width=17pt, align=right},
  ylabel={discharge rate (pps)},
  ylabel style={at={(axis description cs:1.07,0.4)}, anchor=center, font=\fontsize{22}{24}\selectfont},
]
\addplot[draw=none, forget plot] coordinates {(1,10)};
\end{axis}
\node[font=\seriffont\fontsize{24}{26}\selectfont] at (442,-1000) {(b)};
\end{tikzpicture}
\end{document}
